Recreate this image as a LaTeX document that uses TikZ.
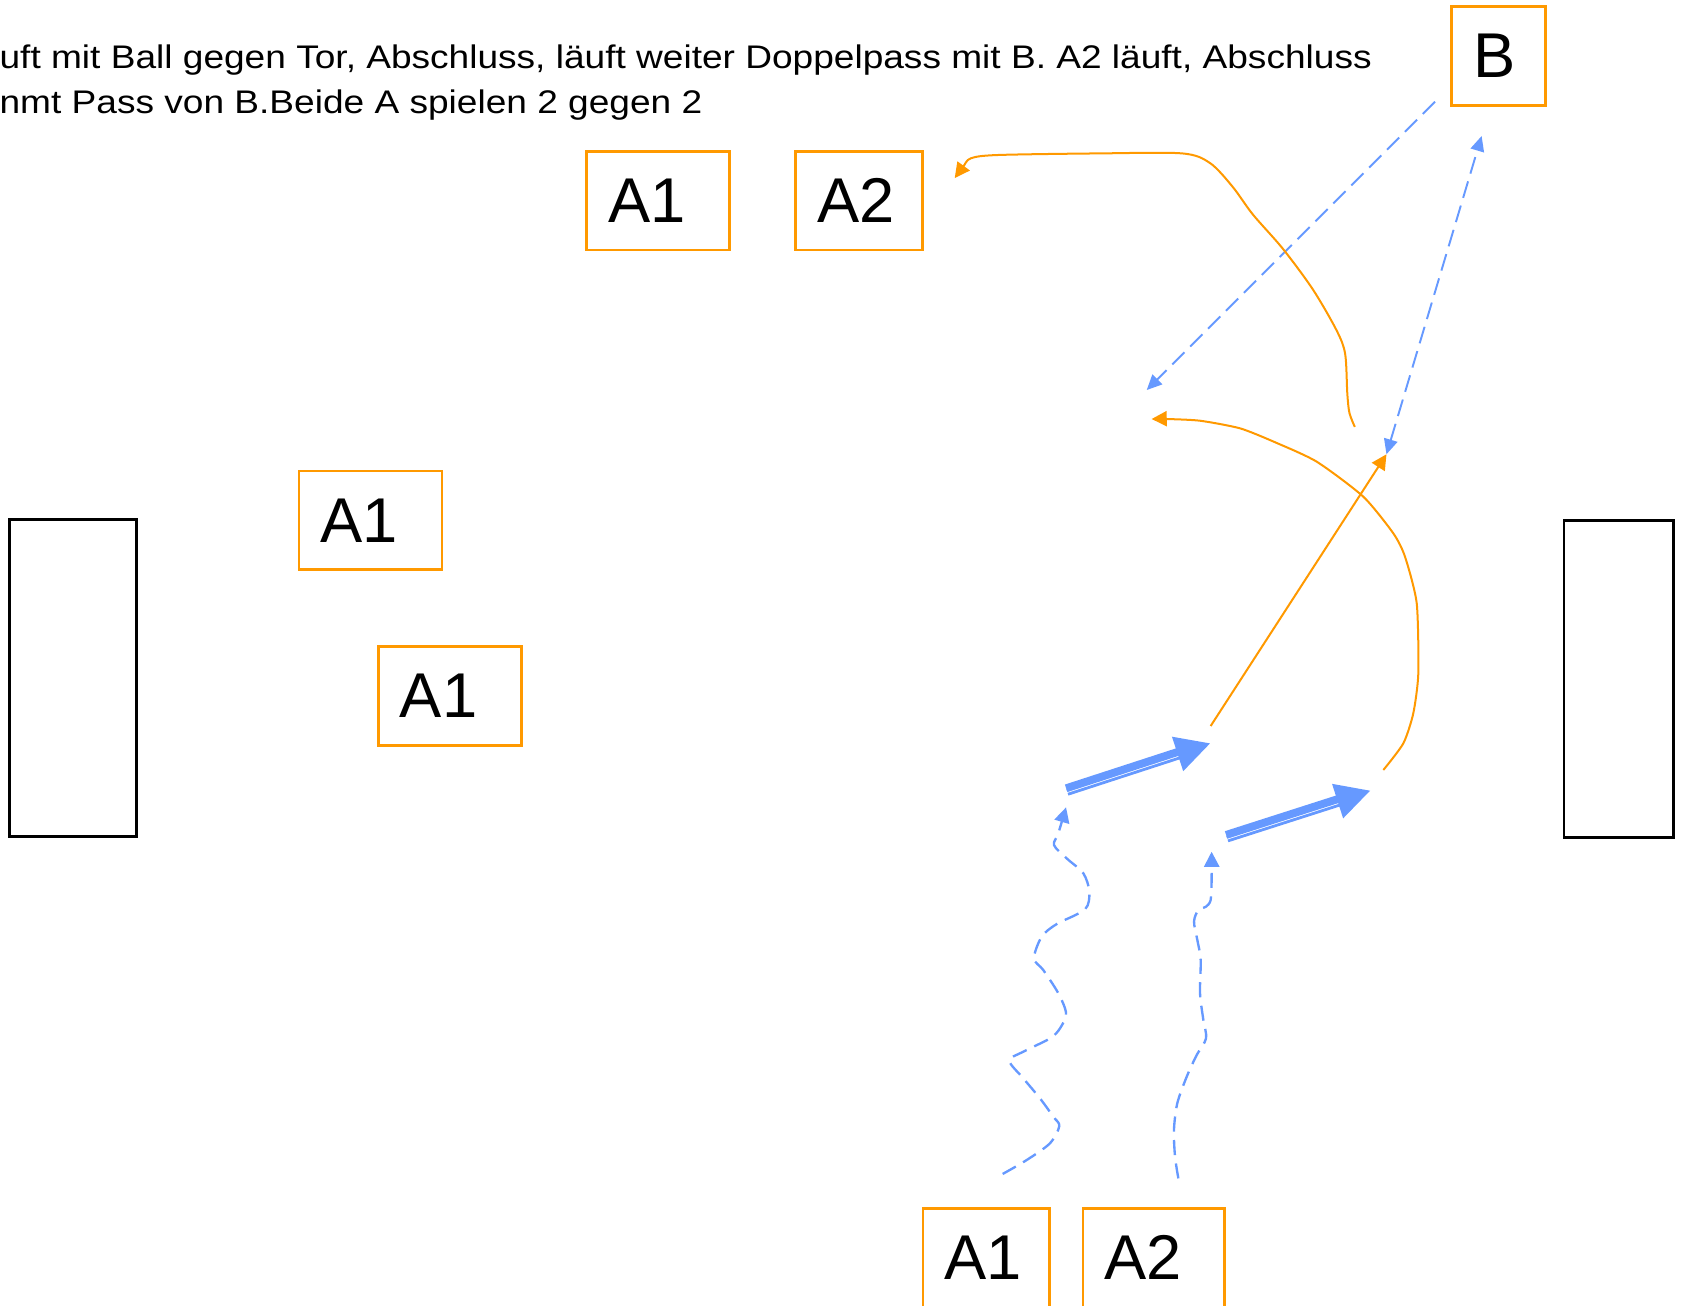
\documentclass[tikz,border=0pt]{standalone}
\usepackage{fontspec}
\setmainfont{Liberation Sans}
\newfontfamily\notefont[FakeStretch=1.134]{Liberation Sans}
\usetikzlibrary{arrows.meta, positioning, calc}
\definecolor{pitchorange}{HTML}{FF9900}
\definecolor{passblue}{HTML}{6699FF}
\tikzset{
	player/.style={draw=pitchorange, line width=0.76pt, align=left, text width=#1,
		inner xsep=6.1pt, inner ysep=0pt, minimum height=28.1pt,
		font=\fontsize{18}{21}\selectfont},
	player/.default=28.5pt,
	notetext/.style={inner sep=0pt, anchor=base west,
		font=\notefont\fontsize{9.3}{11.9}\selectfont},
	goal/.style={draw=black, line width=0.76pt},
	ballrun/.style={draw=pitchorange, line width=0.57pt,
		-{Triangle[length=4.3pt, width=4.3pt]}},
	passline/.style={draw=passblue, line width=0.55pt, dash pattern=on 4.9pt off 2.3pt},
	passtip/.tip={Triangle[length=4.3pt, width=3.9pt]},
	dribble/.style={draw=passblue, line width=0.67pt, dash pattern=on 4.3pt off 2.4pt,
		-{Triangle[length=4.3pt, width=4.3pt]}},
	shothead/.style={draw=passblue, line width=0.5pt,
		-{Triangle[length=9.7pt, width=10.2pt]}},
	shotthick/.style={draw=passblue, line width=2.25pt, shorten >=8pt},
	shotthin/.style={draw=passblue, line width=0.8pt, shorten >=8pt}
}

\begin{document}
\begin{tikzpicture}[x=0.010727cm, y=-0.010727cm]
	\useasboundingbox (0,0) rectangle (1568,1217);
	\clip (0,0) rectangle (1568,1217);
	% task text, cut off at the left edge
	\node[notetext] (noteone) at (-1,63.7) {uft mit Ball gegen Tor, Abschluss, läuft weiter Doppelpass mit B. A2 läuft, Abschluss};
	\node[notetext] (notetwo) at (-1,105.5) {nmt Pass von B.Beide A spielen 2 gegen 2};
	% goals
	\draw[goal] (9,484) rectangle (127,780);
	\draw[goal] (1458,485) rectangle (1560,781);
	% players
	\node[player] (a1top) at (613.5,187) {A1};
	\node[player=24pt, right=18pt of a1top] (a2top) {A2};
	\node[player] (a1mid) at (345.3,485) {A1};
	\node[player] (a1low) at (419.5,649) {A1};
	\node[player=23.8pt] (a1start) at (919.5,1172.5) {A1};
	\node[player=28.1pt, right=8.7pt of a1start] (a2start) {A2};
	\node[player=14.5pt] (b) at (1397,52) {B};
	% free ends of the runs and passes
	\coordinate (dribbleAstart) at (934.7,1094.4);
	\coordinate (dribbleAend) at (993.8,752.6);
	\coordinate (dribbleBstart) at (1098.5,1098.5);
	\coordinate (dribbleBend) at (1129.5,794);
	\coordinate (shotAstart) at (994.4,736.5);
	\coordinate (shotAend) at (1128,693);
	\coordinate (shotBstart) at (1143.5,780);
	\coordinate (shotBend) at (1277.2,737.1);
	\coordinate (kickstart) at (1128.6,676.8);
	\coordinate (wallin) at (1292.5,423.5);
	\coordinate (wallout) at (1381.2,126.8);
	\coordinate (bpassstart) at (1337.7,94.8);
	\coordinate (bpassend) at (1069,363.6);
	\coordinate (runAstart) at (1263,398);
	\coordinate (runAend) at (890,166);
	\coordinate (runBstart) at (1289.6,717.8);
	\coordinate (runBend) at (1073.6,390.6);
	% dribbling
	\draw[dribble] plot[smooth, tension=0.5] coordinates {(dribbleAstart) (957.1,1081.4)
		(978.8,1065.8) (987.5,1049.7) (981.9,1041) (969.5,1023.9) (954,1005.3) (940.9,988.8)
		(954,980.4) (978.8,968) (988.2,958.6) (993.8,944.6) (986.6,926) (972.6,904.3)
		(963.9,893.4) (971.1,873.2) (985.1,861.4) (1011.5,847.7) (1015.5,831.3)
		(1009.9,814.1) (994.4,800.2) (982.6,787.8) (986.6,776.8) (dribbleAend)};
	\draw[dribble] plot[smooth, tension=0.5] coordinates {(dribbleBstart) (1095.4,1078.3)
		(1094.4,1053.4) (1097.5,1028.5) (1106.3,1003.7) (1115.6,983.5) (1124.3,968)
		(1121.8,950.9) (1118.7,926) (1119.3,894.9) (1116.2,876.3) (1113.1,859.2)
		(1117.1,848.3) (1124.3,845.2) (1128.6,839) (1129.5,820.4) (dribbleBend)};
	% shots
	\draw[shotthick] ($(shotAstart)!0.525pt!90:(shotAend)$) -- ($(shotAend)!0.525pt!-90:(shotAstart)$);
	\draw[shotthin] ($(shotAstart)!1.25pt!-90:(shotAend)$) -- ($(shotAend)!1.25pt!90:(shotAstart)$);
	\draw[shothead] (shotAstart) -- (shotAend);
	\draw[shotthick] ($(shotBstart)!0.525pt!90:(shotBend)$) -- ($(shotBend)!0.525pt!-90:(shotBstart)$);
	\draw[shotthin] ($(shotBstart)!1.25pt!-90:(shotBend)$) -- ($(shotBend)!1.25pt!90:(shotBstart)$);
	\draw[shothead] (shotBstart) -- (shotBend);
	% passes with B
	\draw[ballrun] (kickstart) -- (wallin);
	\draw[passline, passtip-passtip] (wallin) -- (wallout);
	\draw[passline, -passtip] (bpassstart) -- (bpassend);
	% runs after the shot
	\draw[ballrun] plot[smooth, tension=0.5] coordinates {(runAstart) (1258,385) (1256,367)
		(1254,330) (1246,308) (1224,270) (1196,232) (1168,200) (1149,174) (1128,152)
		(1102,143) (1025,143) (930,144.5) (905,147.6) (898,155.4) (runAend)};
	\draw[ballrun] plot[smooth, tension=0.4] coordinates {(runBstart) (1308.2,693)
		(1317.5,665) (1322.2,627.7) (1320.7,562.4) (1309.8,519) (1298.9,497.2) (1270.9,463)
		(1227.5,430.4) (1188,412) (1156,399.3) (1118.7,392.2) (1087.6,390.6) (runBend)};
\end{tikzpicture}
\end{document}
